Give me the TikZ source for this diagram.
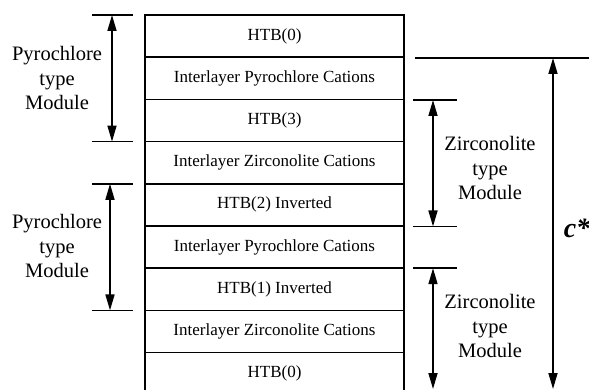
\documentclass[tikz,border=0pt]{standalone}
\usepackage{fontspec}
\setmainfont{Liberation Serif}
\usetikzlibrary{arrows.meta}
\begin{document}
\begin{tikzpicture}[x=1pt,y=-1pt,
 layer/.style={draw, line width=1.6pt, minimum width=259pt, minimum height=42.2pt, inner sep=0pt, font=\fontsize{17}{20}\selectfont},
 tick/.style={line width=1.6pt},
 dim/.style={line width=1.6pt, {Triangle[length=16pt,width=9pt]}-{Triangle[length=16pt,width=9pt]}},
 lab/.style={align=center, font=\fontsize{20.5}{24.5}\selectfont}]
\useasboundingbox (0,0) rectangle (589,390);
\clip (0,0) rectangle (589,390);
% layer stack
\node[layer] (r0) at (274.5, 36.1) {HTB(0)};
\node[layer] (r1) at (274.5, 78.3) {Interlayer Pyrochlore Cations};
\node[layer] (r2) at (274.5,120.5) {HTB(3)};
\node[layer] (r3) at (274.5,162.7) {Interlayer Zirconolite Cations};
\node[layer] (r4) at (274.5,204.9) {HTB(2) Inverted};
\node[layer] (r5) at (274.5,247.1) {Interlayer Pyrochlore Cations};
\node[layer] (r6) at (274.5,289.3) {HTB(1) Inverted};
\node[layer] (r7) at (274.5,331.5) {Interlayer Zirconolite Cations};
\node[layer] (r8) at (274.5,373.7) {HTB(0)};
% left module 1
\coordinate (a1) at (112,15);
\coordinate (b1) at (112,141.6);
\draw[tick] (92,15) -- (133,15);
\draw[tick] (92,141.6) -- (133,141.6);
\draw[dim] (a1) -- (b1);
\node[lab] (l1) at (57,78) {Pyrochlore\\type\\Module};
% left module 2
\coordinate (a2) at (110,183.8);
\coordinate (b2) at (110,310.4);
\draw[tick] (92,183.8) -- (133,183.8);
\draw[tick] (92,310.4) -- (133,310.4);
\draw[dim] (a2) -- (b2);
\node[lab] (l2) at (57,246) {Pyrochlore\\type\\Module};
% right module 1
\coordinate (a3) at (433,100);
\coordinate (b3) at (433,226.5);
\draw[tick] (413,100) -- (457,100);
\draw[tick] (413,226.5) -- (457,226.5);
\draw[dim] (a3) -- (b3);
\node[lab] (l3) at (490,168) {Zirconolite\\type\\Module};
% right module 2
\coordinate (a4) at (433,268.2);
\coordinate (b4) at (433,389);
\draw[tick] (413,268.2) -- (457,268.2);
\draw[dim] (a4) -- (b4);
\node[lab] (l4) at (490,326) {Zirconolite\\type\\Module};
% c*
\coordinate (a5) at (553,58);
\coordinate (b5) at (553,389);
\draw[tick] (415,58) -- (589,58);
\draw[dim] (a5) -- (b5);
\node (cs) at (577,228) {\fontsize{28}{30}\selectfont\bfseries\itshape c*};
\end{tikzpicture}
\end{document}
